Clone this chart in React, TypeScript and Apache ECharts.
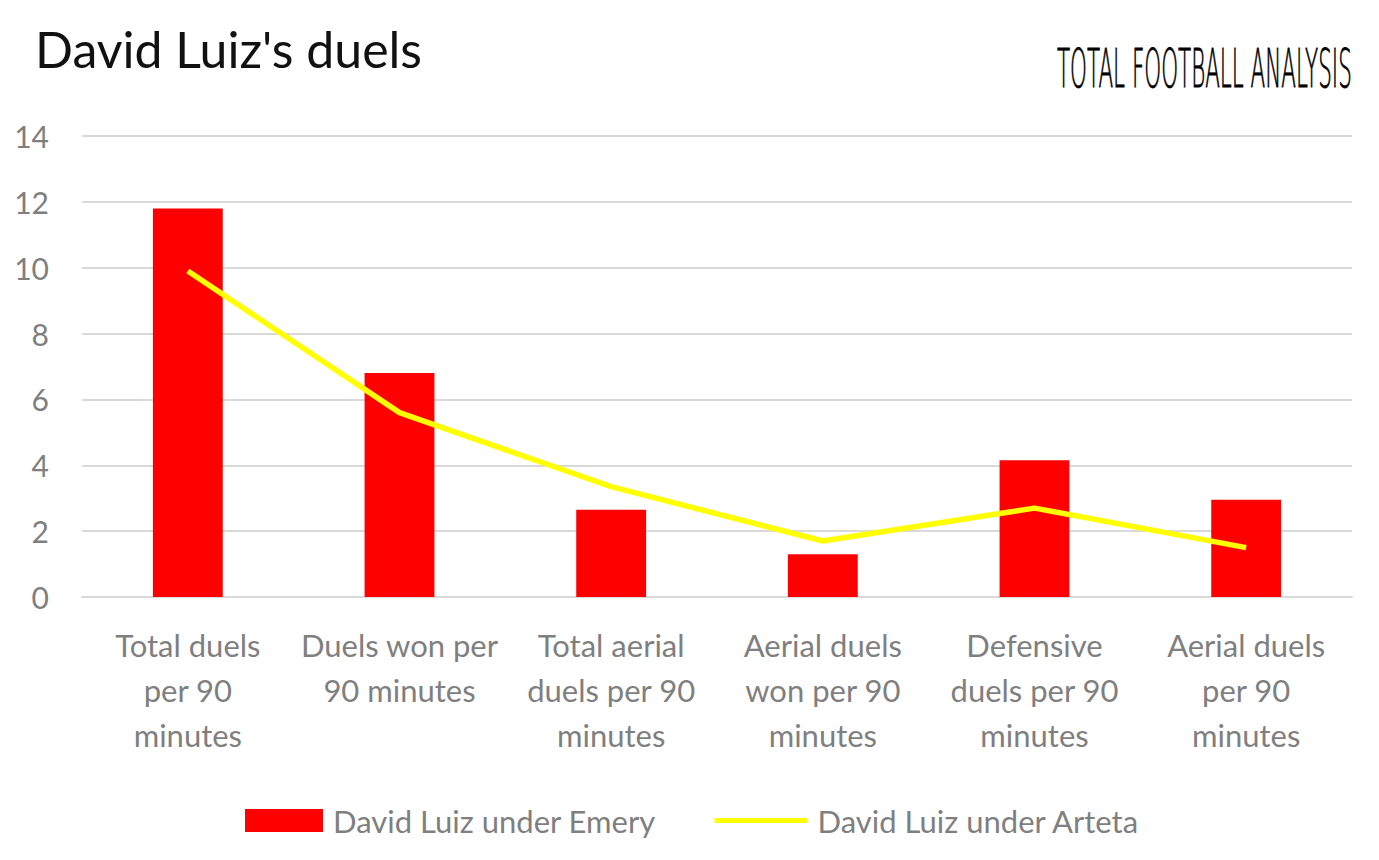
import React, { useEffect, useRef } from "react";
import * as echarts from "echarts";

const categories = [
  "Total duels\nper 90\nminutes",
  "Duels won per\n90 minutes",
  "Total aerial\nduels per 90\nminutes",
  "Aerial duels\nwon per 90\nminutes",
  "Defensive\nduels per 90\nminutes",
  "Aerial duels\nper 90\nminutes",
];
const emeryValues = [11.8, 6.8, 2.65, 1.3, 4.15, 2.95];
const artetaValues = [9.9, 5.6, 3.35, 1.7, 2.7, 1.5];
const seriesNames = ["David Luiz under Emery", "David Luiz under Arteta"];

const FONT = "Lato";
const GREY = "#7f7f7f";

export default function App() {
  const ref = useRef<HTMLDivElement>(null);
  useEffect(() => {
    document.body.style.margin = "0";
    const chart = echarts.init(ref.current!, null, { renderer: "svg" });
    chart.setOption({
      animation: false,
      backgroundColor: "#ffffff",
      textStyle: { fontFamily: FONT },
      title: {
        text: "David Luiz's duels",
        left: 30,
        top: 19,
        textStyle: { fontSize: 50, fontWeight: "normal", color: "#111111", fontFamily: FONT },
      },
      graphic: [
        {
          type: "text",
          x: 1057,
          y: 42,
          scaleX: 0.405,
          scaleY: 1,
          style: {
            text: "TOTAL FOOTBALL ANALYSIS",
            fontSize: 53,
            fontFamily: "DejaVu Sans",
            fontWeight: 200,
            fill: "#000000",
            stroke: "#000000",
            lineWidth: 0.8,
          },
        },
      ],
      grid: { left: 82, right: 27, top: 136, bottom: 263, containLabel: false },
      xAxis: {
        type: "category",
        data: categories,
        axisLine: { show: true, lineStyle: { color: "#d9d9d9", width: 2 } },
        axisTick: { show: false },
        axisLabel: {
          color: GREY,
          fontSize: 31,
          lineHeight: 45,
          margin: 25,
          fontFamily: FONT,
          interval: 0,
        },
      },
      yAxis: {
        type: "value",
        min: 0,
        max: 14,
        interval: 2,
        axisLine: { show: false },
        axisTick: { show: false },
        splitLine: { lineStyle: { color: "#d9d9d9", width: 2 } },
        axisLabel: { color: GREY, fontSize: 30, margin: 33, fontFamily: FONT },
      },
      legend: [
        {
          left: 245,
          top: 805,
          padding: 0,
          itemWidth: 78,
          itemHeight: 23,
          textStyle: { color: GREY, fontSize: 31, fontFamily: FONT, padding: [0, 0, 0, 5] },
          data: [{ name: seriesNames[0], icon: "rect" }],
        },
        {
          left: 712,
          top: 805,
          padding: 0,
          itemWidth: 93,
          itemHeight: 23,
          textStyle: { color: GREY, fontSize: 31, fontFamily: FONT, padding: [0, 0, 0, 5] },
          data: [{ name: seriesNames[1], itemStyle: { opacity: 0 }, lineStyle: { width: 5 } }],
        },
      ],
      series: [
        {
          name: seriesNames[0],
          type: "bar",
          data: emeryValues,
          barWidth: "33%",
          itemStyle: { color: "#ff0000" },
        },
        {
          name: seriesNames[1],
          type: "line",
          data: artetaValues,
          symbol: "none",
          lineStyle: { color: "#ffff00", width: 5.5 },
          itemStyle: { color: "#ffff00" },
        },
      ],
    });
    return () => chart.dispose();
  }, []);
  return <div ref={ref} style={{ width: 1379, height: 860 }} />;
}
